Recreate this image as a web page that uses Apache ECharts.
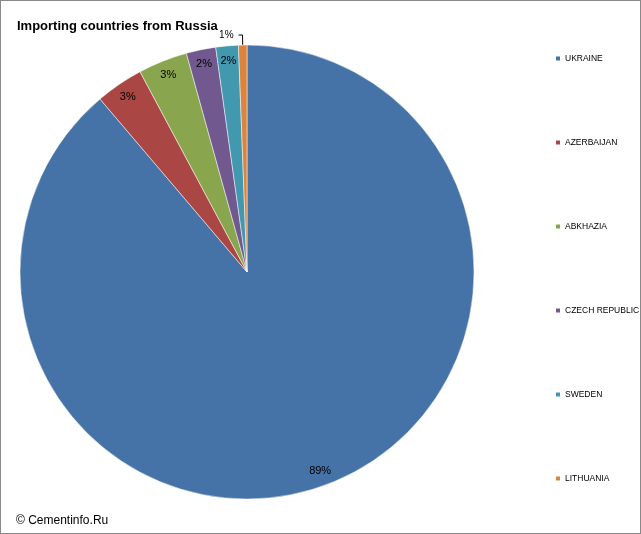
<!DOCTYPE html>
<html><head><meta charset="utf-8">
<script src="https://cdn.jsdelivr.net/npm/echarts@6/dist/echarts.min.js"></script>
<style>html,body{margin:0;padding:0;background:#fff}#main{width:641px;height:534px;box-sizing:border-box;border:1px solid #888}</style>
</head><body><div id="main"></div>
<script>
var countries = ['UKRAINE','AZERBAIJAN','ABKHAZIA','CZECH REPUBLIC','SWEDEN','LITHUANIA'];
var shares = [88.7, 3.4, 3.5, 2.1, 1.6, 0.6];
var labels = ['89%','3%','3%','2%','2%','1%'];
var colors = ['#4572A7','#AA4643','#89A54E','#71588F','#4198AF','#DB843D'];

var chart = echarts.init(document.getElementById('main'));
var mainData = countries.map(function (c, i) {
    var d = {name: c, value: shares[i], itemStyle: {color: colors[i]}, label: {show: false}, labelLine: {show: false}};
    if (i === 5) {
        d.label = {show: true, position: 'outside', formatter: labels[i], fontSize: 10, color: '#000', fontFamily: 'Liberation Sans'};
        d.labelLine = {show: true, length: 10, length2: 4, lineStyle: {color: '#000', width: 1}};
    }
    return d;
});
var labelData = countries.map(function (c, i) {
    return {name: c, value: shares[i], label: {show: i !== 5, formatter: labels[i]}};
});
chart.setOption({
    animation: false,
    color: colors,
    title: {text: 'Importing countries from Russia', left: 11, top: 14,
        textStyle: {fontSize: 13, fontWeight: 'bold', color: '#000', fontFamily: 'Liberation Sans'}},
    graphic: [{type: 'text', left: 15, top: 514, style: {text: '© Cementinfo.Ru', fontSize: 12, fill: '#000', fontFamily: 'Liberation Sans'}}],
    legend: {orient: 'vertical', left: 548, top: 48, itemWidth: 6, itemHeight: 6, itemGap: 75, icon: 'rect',
        data: countries, textStyle: {fontSize: 8.5, color: '#000', fontFamily: 'Liberation Sans', padding: [0, 0, 0, -1]}},
    series: [
        {type: 'pie', center: [246, 271], radius: [0, 227], startAngle: 90, clockwise: true,
            data: mainData, itemStyle: {borderColor: '#fff', borderWidth: 0.5}, emphasis: {disabled: true}},
        {type: 'pie', center: [246, 271], radius: [191, 227], startAngle: 90, clockwise: true, silent: true,
            itemStyle: {color: 'rgba(0,0,0,0)'}, labelLine: {show: false}, emphasis: {disabled: true},
            label: {position: 'inside', fontSize: 11, color: '#000', fontFamily: 'Liberation Sans'},
            data: labelData}
    ]
});
</script></body></html>
